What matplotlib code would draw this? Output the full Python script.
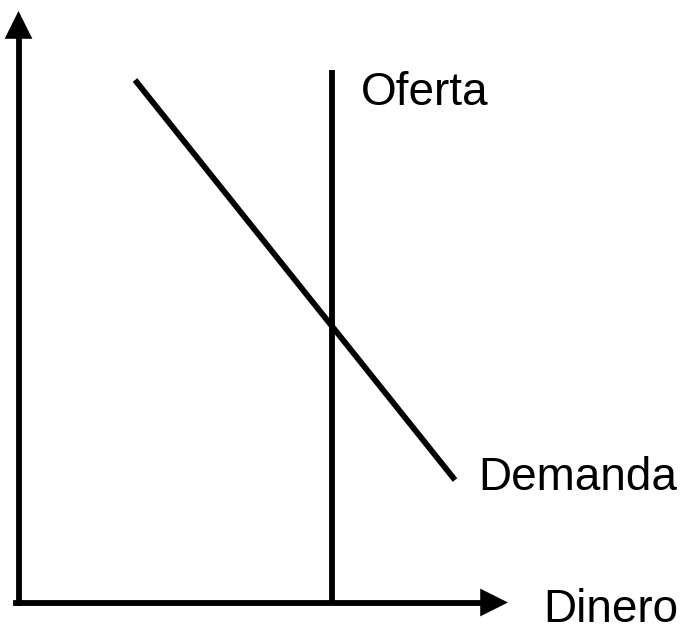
import matplotlib
matplotlib.use("Agg")
import matplotlib.pyplot as plt

# pixel-space coordinates (origin top-left)
demand_x = [135, 455]
demand_y = [80, 480]
supply_x = [332, 332]
supply_y = [70, 603]
yaxis_x = [18.5, 18.5]
yaxis_y = [603, 11]
xaxis_x = [16, 508]
xaxis_y = [602.5, 602.5]

labels = ["Oferta", "Demanda", "Dinero"]
label_x = [361, 478, 543]
label_y = [105, 490, 622]

W, H = 690, 627
fig = plt.figure(figsize=(W / 100, H / 100), dpi=100)
ax = fig.add_axes([0, 0, 1, 1])
ax.set_xlim(0, W)
ax.set_ylim(H, 0)
ax.axis("off")

lw = 4.2
ax.plot(demand_x, demand_y, color="black", lw=lw, solid_capstyle="butt")
ax.plot(supply_x, supply_y, color="black", lw=lw, solid_capstyle="butt")

# axis shafts, then filled heads drawn without an outline
ax.plot(yaxis_x, yaxis_y[:1] + [yaxis_y[1] + 15], color="black", lw=lw,
        solid_capstyle="projecting")
ax.plot([xaxis_x[0], xaxis_x[1] - 15], xaxis_y, color="black", lw=lw,
        solid_capstyle="projecting")
head = dict(arrowstyle="-|>,head_length=0.4,head_width=0.2", color="black",
            lw=0, shrinkA=0, shrinkB=0, mutation_scale=50)
ax.annotate("", xy=(yaxis_x[1], yaxis_y[1]), xytext=(yaxis_x[0], yaxis_y[0]),
            arrowprops=head)
ax.annotate("", xy=(xaxis_x[1], xaxis_y[1]), xytext=(xaxis_x[0], xaxis_y[0]),
            arrowprops=head)

for text, x, y in zip(labels, label_x, label_y):
    ax.text(x, y, text, fontsize=33, family="Liberation Sans",
            ha="left", va="baseline")

fig.savefig("out.png", dpi=100)
